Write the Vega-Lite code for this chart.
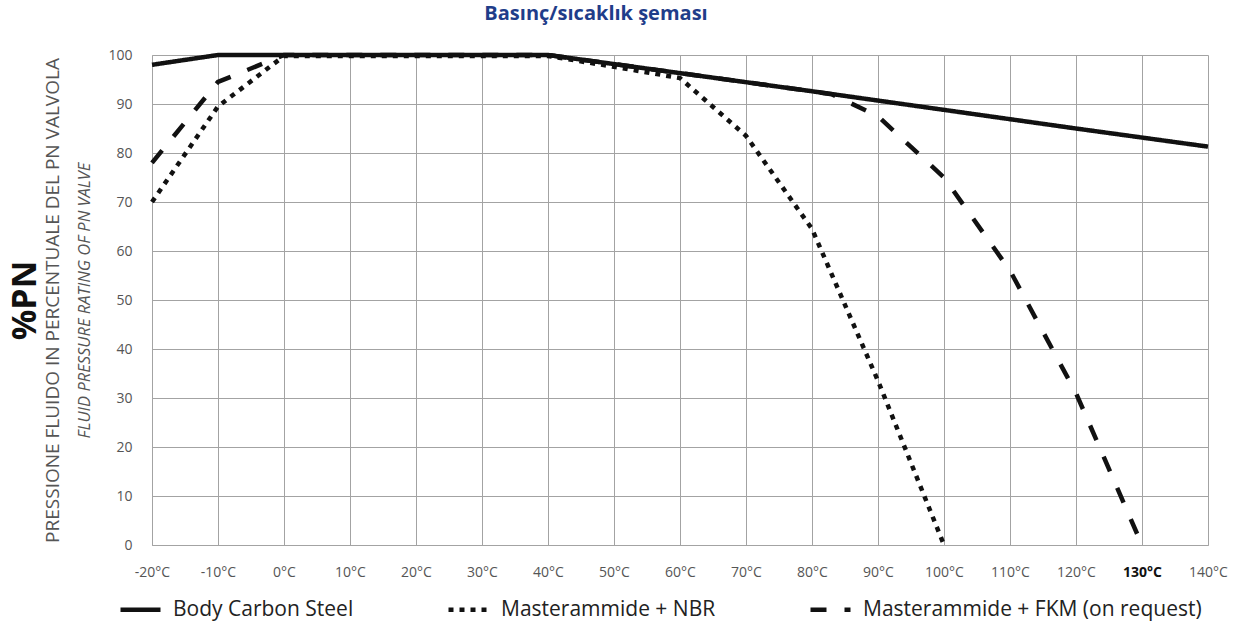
{
  "$schema": "https://vega.github.io/schema/vega-lite/v6.json",
  "width": 1056,
  "height": 490,
  "autosize": {"type": "none"},
  "padding": {"left": 152, "top": 55, "right": 34, "bottom": 83},
  "background": "white",
  "config": {"view": {"stroke": null}},
  "title": {
    "text": "Basınç/sıcaklık şeması",
    "font": "Open Sans",
    "fontSize": 20,
    "fontWeight": "bold",
    "color": "#1f3d8a",
    "anchor": "middle",
    "dx": -84,
    "offset": 22
  },
  "data": {
    "values": [
      {"s": "Body Carbon Steel", "t": -20, "v": 98},
      {"s": "Body Carbon Steel", "t": -10, "v": 100},
      {"s": "Body Carbon Steel", "t": 40, "v": 100},
      {"s": "Body Carbon Steel", "t": 60, "v": 96.3},
      {"s": "Body Carbon Steel", "t": 80, "v": 92.6},
      {"s": "Body Carbon Steel", "t": 100, "v": 88.8},
      {"s": "Body Carbon Steel", "t": 120, "v": 85},
      {"s": "Body Carbon Steel", "t": 140, "v": 81.3},
      {"s": "Masterammide + NBR", "t": -20, "v": 70},
      {"s": "Masterammide + NBR", "t": -10, "v": 89.5},
      {"s": "Masterammide + NBR", "t": 0, "v": 99.8},
      {"s": "Masterammide + NBR", "t": 40, "v": 99.8},
      {"s": "Masterammide + NBR", "t": 50, "v": 97.6},
      {"s": "Masterammide + NBR", "t": 60, "v": 95.3},
      {"s": "Masterammide + NBR", "t": 70, "v": 83.5},
      {"s": "Masterammide + NBR", "t": 80, "v": 64.5},
      {"s": "Masterammide + NBR", "t": 90, "v": 33.5},
      {"s": "Masterammide + NBR", "t": 100, "v": 0},
      {"s": "Masterammide + FKM (on request)", "t": -20, "v": 78},
      {"s": "Masterammide + FKM (on request)", "t": -10, "v": 94.5},
      {"s": "Masterammide + FKM (on request)", "t": 0, "v": 100},
      {"s": "Masterammide + FKM (on request)", "t": 40, "v": 100},
      {"s": "Masterammide + FKM (on request)", "t": 60, "v": 96.3},
      {"s": "Masterammide + FKM (on request)", "t": 80, "v": 92.6},
      {"s": "Masterammide + FKM (on request)", "t": 83, "v": 92},
      {"s": "Masterammide + FKM (on request)", "t": 90, "v": 87.5},
      {"s": "Masterammide + FKM (on request)", "t": 100, "v": 75},
      {"s": "Masterammide + FKM (on request)", "t": 110, "v": 56},
      {"s": "Masterammide + FKM (on request)", "t": 120, "v": 31},
      {"s": "Masterammide + FKM (on request)", "t": 130, "v": 0}
    ]
  },
  "encoding": {
    "x": {
      "field": "t",
      "type": "quantitative",
      "scale": {"domain": [-20, 140], "nice": false, "zero": false},
      "axis": {
        "values": [-20, -10, 0, 10, 20, 30, 40, 50, 60, 70, 80, 90, 100, 110, 120, 130, 140],
        "labelExpr": "datum.value + '°C'",
        "title": null,
        "grid": true,
        "gridColor": "#a3a3a3",
        "gridWidth": 1,
        "ticks": false,
        "domainColor": "#a3a3a3",
        "labelFont": "Open Sans",
        "labelFontSize": 14,
        "labelColor": {"condition": {"test": "datum.value == 130", "value": "#111"}, "value": "#555"},
        "labelFontWeight": {"condition": {"test": "datum.value == 130", "value": "bold"}, "value": "normal"},
        "labelPadding": 20,
        "labelFlush": false,
        "labelOverlap": false
      }
    },
    "strokeDash": {
      "field": "s",
      "type": "nominal",
      "scale": {
        "domain": ["Body Carbon Steel", "Masterammide + NBR", "Masterammide + FKM (on request)"],
        "range": [[1, 0], [5, 6], [16, 18]]
      },
      "legend": {
        "title": null,
        "orient": "none",
        "legendX": -34,
        "legendY": 532,
        "direction": "horizontal",
        "symbolType": "stroke",
        "symbolSize": 1600,
        "symbolStrokeWidth": 4.5,
        "symbolStrokeColor": "#111",
        "labelFont": "Open Sans",
        "labelFontSize": 21,
        "labelColor": "#222",
        "labelLimit": 0,
        "labelOffset": 10,
        "columnPadding": 85
      }
    }
  },
  "layer": [
    {
      "transform": [{"filter": "datum.s == 'Masterammide + NBR'"}],
      "mark": {"type": "line", "color": "#111", "strokeWidth": 4.5, "strokeCap": "butt"},
      "encoding": {
        "y": {
          "field": "v",
          "type": "quantitative",
          "scale": {"domain": [0, 100], "nice": false},
          "axis": {
            "orient": "left",
            "labels": false,
            "ticks": false,
            "domain": false,
            "grid": false,
            "title": "PRESSIONE FLUIDO IN PERCENTUALE DEL PN VALVOLA",
            "titleFont": "Open Sans",
            "titleFontSize": 19,
            "titleFontWeight": "normal",
            "titleColor": "#555",
            "titlePadding": 90
          }
        }
      }
    },
    {
      "transform": [{"filter": "datum.s == 'Masterammide + FKM (on request)'"}],
      "mark": {"type": "line", "color": "#111", "strokeWidth": 4.5, "strokeCap": "butt"},
      "encoding": {
        "y": {
          "field": "v",
          "type": "quantitative",
          "scale": {"domain": [0, 100], "nice": false},
          "axis": {
            "orient": "left",
            "labels": false,
            "ticks": false,
            "domain": false,
            "grid": false,
            "title": "%PN",
            "titleFont": "Open Sans",
            "titleFontSize": 34,
            "titleFontWeight": "bold",
            "titleColor": "#111",
            "titlePadding": 110
          }
        }
      }
    },
    {
      "transform": [{"filter": "datum.s == 'Body Carbon Steel'"}],
      "mark": {"type": "line", "color": "#111", "strokeWidth": 4.5, "strokeCap": "butt"},
      "encoding": {
        "y": {
          "field": "v",
          "type": "quantitative",
          "scale": {"domain": [0, 100], "nice": false},
          "axis": {
            "orient": "left",
            "values": [0, 10, 20, 30, 40, 50, 60, 70, 80, 90, 100],
            "grid": true,
            "gridColor": "#a3a3a3",
            "gridWidth": 1,
            "ticks": false,
            "domainColor": "#a3a3a3",
            "labelFont": "Open Sans",
            "labelFontSize": 14,
            "labelColor": "#555",
            "labelPadding": 20,
            "title": "FLUID PRESSURE RATING OF PN VALVE",
            "titleFont": "Open Sans",
            "titleFontSize": 16.5,
            "titleFontWeight": "normal",
            "titleFontStyle": "italic",
            "titleColor": "#555",
            "titlePadding": 15
          }
        }
      }
    }
  ],
  "resolve": {"scale": {"y": "shared"}, "axis": {"y": "independent"}}
}
